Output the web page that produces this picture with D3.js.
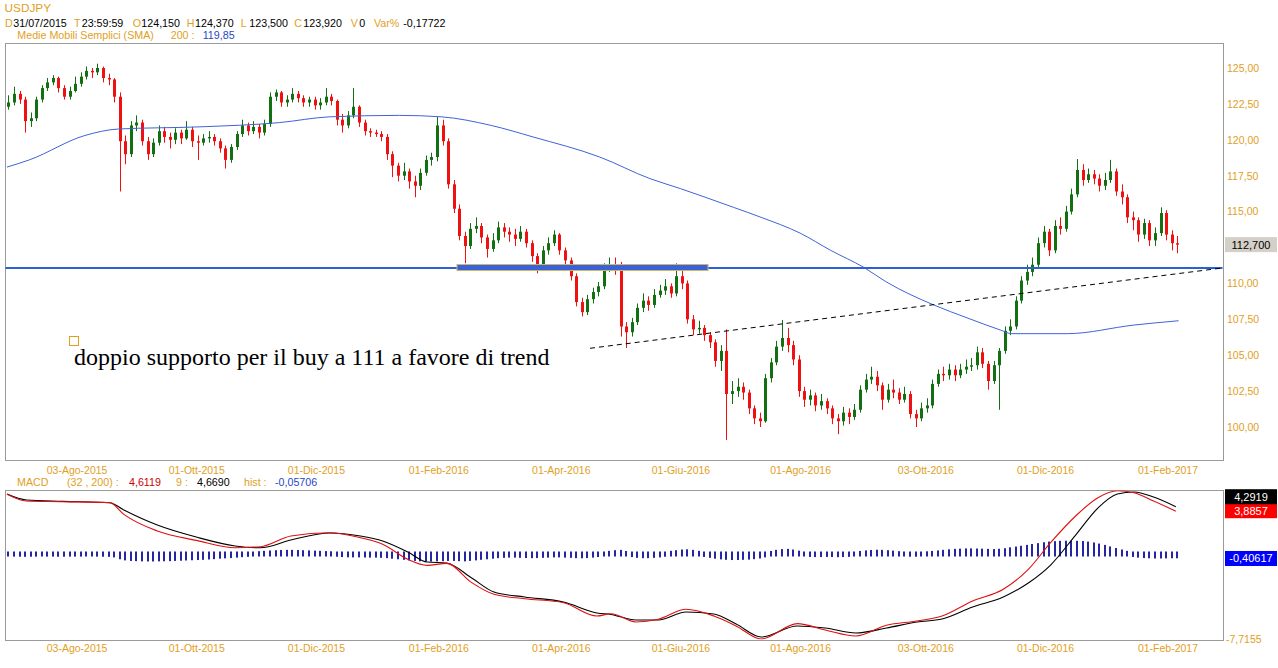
<!DOCTYPE html>
<html><head><meta charset="utf-8">
<script src="https://cdn.jsdelivr.net/npm/d3@7"></script>
<style>
html,body{margin:0;padding:0;background:#fff;}
svg{display:block;}
</style></head><body>
<svg id="chart" width="1278" height="668" font-family="'Liberation Sans',Arial,sans-serif"></svg>
<script>
// ---------------- DATA ----------------
// one candle = 2 trading days (candle k starts on trading day 2k, day 0 = 29/06/2015)
const candleOpen = [122.3,122.6,123.2,122.8,121.3,121.5,122.8,123.6,124.0,124.3,
123.6,123.0,123.4,123.9,124.4,124.8,124.7,125.0,124.3,124.2,
123.0,119.9,119.0,121.0,121.2,119.9,119.0,119.8,120.6,120.2,
120.0,120.5,120.1,120.7,119.9,119.8,120.1,120.2,119.9,119.4,
118.6,119.5,120.4,121.0,120.6,120.9,120.5,121.1,123.0,123.3,
122.6,122.8,123.2,122.9,122.6,122.8,122.4,122.6,123.0,122.7,
121.4,121.0,121.7,122.3,121.2,120.6,120.5,120.4,120.2,119.0,
118.2,117.5,117.8,117.1,116.8,117.7,118.6,118.8,121.0,119.9,
116.9,115.2,113.3,112.6,113.8,114.0,113.2,112.4,113.0,113.9,
113.6,113.4,113.1,113.6,112.8,111.9,111.2,112.3,112.8,113.4,
112.3,111.6,110.5,108.7,108.0,108.9,109.4,109.8,111.0,111.3,
111.0,107.0,106.6,107.3,108.3,108.8,108.5,109.2,109.5,109.8,
109.3,110.5,110.0,107.5,106.8,106.9,106.4,105.9,104.6,105.3,
102.3,102.5,102.8,102.4,101.3,100.6,100.4,103.4,104.5,105.6,
106.2,105.7,104.7,102.5,101.9,102.2,101.5,101.8,101.3,100.6,
100.4,101.0,100.7,101.2,102.6,103.3,103.5,102.9,101.9,102.6,
102.4,101.9,102.3,100.9,100.6,101.3,101.5,103.0,103.7,103.6,
104.0,103.6,104.0,104.2,104.3,105.2,104.4,103.2,104.3,105.3,
106.7,107.0,108.8,110.2,110.8,111.3,112.8,113.6,112.3,114.0,
113.8,115.0,116.2,117.9,117.2,117.6,117.3,116.8,117.2,117.8,
116.4,116.0,114.6,114.4,113.4,114.2,113.0,113.5,114.9,113.4,
112.8];
const candleHigh = [123.1,123.7,123.4,123.0,121.9,123.0,123.8,124.3,124.5,124.4,
123.8,123.7,124.4,124.7,125.1,125.0,125.3,125.1,124.6,124.3,
123.3,120.3,121.3,121.7,121.4,120.2,120.1,121.0,120.9,120.5,
120.8,120.7,121.3,120.9,120.3,120.4,120.6,120.4,120.1,119.6,
119.7,120.6,121.4,121.2,121.3,121.1,121.4,123.3,123.5,123.4,
123.1,123.6,123.4,123.1,123.0,123.0,122.9,123.6,123.2,122.8,
121.8,122.0,123.6,122.4,121.4,120.8,120.7,120.6,120.4,119.2,
118.4,118.4,118.0,117.5,118.0,118.9,119.1,121.6,121.4,120.1,
117.2,115.5,113.6,114.2,114.6,114.2,113.4,113.5,114.3,114.2,
113.9,113.8,114.0,113.8,113.0,112.1,112.6,113.2,113.7,113.5,
112.5,111.8,110.7,109.0,109.2,109.7,110.1,111.4,111.8,111.8,
111.5,107.3,107.6,108.6,109.3,109.1,109.6,109.9,110.3,110.0,
111.4,111.0,110.2,107.8,107.4,107.1,106.6,106.1,105.7,106.8,
103.2,103.4,103.1,102.6,101.5,101.0,103.7,104.8,106.0,107.45,
106.9,106.0,105.0,102.8,102.6,102.4,102.3,102.0,101.5,100.9,
101.4,101.3,101.6,102.9,103.7,104.2,103.9,103.1,103.0,103.3,
102.7,102.8,102.5,101.2,101.7,102.0,103.3,104.0,104.2,104.4,
104.3,104.4,104.7,104.8,105.6,105.5,104.6,104.6,105.5,107.0,
107.5,109.1,110.5,111.3,111.8,113.2,114.0,113.8,114.4,114.6,
115.4,116.6,118.66,118.3,118.0,117.9,117.6,117.7,118.6,118.0,
116.9,116.2,115.0,114.6,114.5,114.4,113.9,115.3,115.1,113.7,
113.3];
const candleLow = [122.1,122.4,122.5,120.5,120.9,121.3,122.6,123.4,123.8,123.3,
122.8,122.8,123.3,123.7,124.2,124.3,124.5,124.0,123.8,122.6,
116.4,118.3,118.8,120.6,119.6,118.6,118.8,119.6,119.8,119.4,
119.7,119.7,120.0,119.5,118.6,119.6,119.8,119.6,119.1,118.0,
118.4,119.3,120.2,120.3,120.4,120.1,120.3,120.9,122.7,122.3,
122.3,122.6,122.6,122.3,122.3,122.1,122.1,122.4,122.4,121.0,
120.5,120.8,121.5,120.9,120.3,120.2,120.2,119.9,118.6,117.4,
117.1,117.2,116.6,116.0,116.5,117.5,118.2,118.5,119.6,116.6,
114.9,113.0,111.4,112.4,113.5,112.8,111.8,112.2,112.8,113.2,
112.9,112.6,112.9,112.5,111.5,110.7,111.0,112.0,112.6,112.0,
111.3,110.2,108.4,107.7,107.8,108.6,109.1,109.6,110.8,110.6,
106.3,105.5,106.3,107.1,108.0,108.1,108.3,109.0,109.2,109.0,
109.1,109.6,107.2,106.4,106.5,106.0,105.5,104.2,103.9,99.1,
101.6,102.1,101.9,100.9,100.2,100.0,100.3,103.1,104.3,105.3,
105.2,104.3,102.1,101.4,101.5,101.1,101.2,100.9,100.2,99.5,
100.1,100.2,100.5,101.0,102.4,103.0,102.5,101.2,101.7,102.0,
101.6,101.7,100.6,100.0,100.4,101.0,101.3,102.8,103.2,103.3,
103.2,103.4,103.7,103.9,104.0,104.1,102.6,103.0,101.2,105.1,
106.4,106.8,108.6,109.9,110.5,111.1,112.5,111.9,112.1,113.4,
113.6,114.8,116.0,116.8,117.0,116.9,116.4,116.5,117.0,116.1,
115.5,114.2,113.7,112.9,113.1,112.6,112.6,113.3,113.0,112.3,
112.1];
const candleClose = [122.6,123.2,122.8,121.3,121.5,122.8,123.6,124.0,124.3,123.6,
123.0,123.4,123.9,124.4,124.8,124.7,125.0,124.3,124.2,123.0,
119.9,119.0,121.0,121.2,119.9,119.0,119.8,120.6,120.2,120.0,
120.5,120.1,120.7,119.9,119.8,120.1,120.2,119.9,119.4,118.6,
119.5,120.4,121.0,120.6,120.9,120.5,121.1,123.0,123.3,122.6,
122.8,123.2,122.9,122.6,122.8,122.4,122.6,123.0,122.7,121.4,
121.0,121.7,122.3,121.2,120.6,120.5,120.4,120.2,119.0,118.2,
117.5,117.8,117.1,116.8,117.7,118.6,118.8,121.0,119.9,116.9,
115.2,113.3,112.6,113.8,114.0,113.2,112.4,113.0,113.9,113.6,
113.4,113.1,113.6,112.8,111.9,111.2,112.3,112.8,113.4,112.3,
111.6,110.5,108.7,108.0,108.9,109.4,109.8,111.0,111.3,111.0,
107.0,106.6,107.3,108.3,108.8,108.5,109.2,109.5,109.8,109.3,
110.5,110.0,107.5,106.8,106.9,106.4,105.9,104.6,105.3,102.3,
102.5,102.8,102.4,101.3,100.6,100.4,103.4,104.5,105.6,106.2,
105.7,104.7,102.5,101.9,102.2,101.5,101.8,101.3,100.6,100.4,
101.0,100.7,101.2,102.6,103.3,103.5,102.9,101.9,102.6,102.4,
101.9,102.3,100.9,100.6,101.3,101.5,103.0,103.7,103.6,104.0,
103.6,104.0,104.2,104.3,105.2,104.4,103.2,104.3,105.3,106.7,
107.0,108.8,110.2,110.8,111.3,112.8,113.6,112.3,114.0,113.8,
115.0,116.2,117.9,117.2,117.6,117.3,116.8,117.2,117.8,116.4,
116.0,114.6,114.4,113.4,114.2,113.0,113.5,114.9,113.4,112.8,
112.7];
const daysPerCandle = 2;
const lastDay = 421;

// SMA 200 (read at trading-day positions)
const smaDays   = [0,8,28,40,69,98,116,141,156,174,189,213,231,242,261,271,285,296,308,316,333,345,357,361,381,405,421];
const smaValues = [118.1,118.6,120.3,120.75,120.9,121.2,121.6,121.7,121.6,121.0,120.2,118.8,117.3,116.6,115.3,114.6,113.5,112.3,111.1,110.1,108.5,107.6,106.75,106.5,106.5,107.1,107.4];

// horizontal support, highlighted zone, dashed trend line
const supportLevel = 111.07;
const supportZoneDays = [161.7, 251.9];
const trendDays = [209.5, 436.6];
const trendValues = [105.48, 111.07];
const lastPrice = 112.7;

// MACD (32,200) and signal (9)
const macdDays = [0,7,20,37,42,54,68,82,91,102,116,127,135,144,151,158,167,175,186,200,212,217,226,234,244,254,262,271,284,294,305,316,327,336,347,358,367,375,384,392,399,405,412,420];
const macdValues = [5.42,4.81,4.75,4.66,3.60,2.09,1.24,0.57,0.66,1.63,1.93,1.48,0.88,-0.48,-1.03,-0.85,-2.60,-3.66,-4.06,-4.42,-5.63,-5.42,-6.17,-5.93,-5.02,-5.63,-6.53,-7.7155,-6.32,-6.90,-7.44,-6.47,-6.08,-5.63,-4.26,-3.20,-1.39,1.03,3.45,5.11,5.74,5.56,4.81,3.8857];
const signalValues = [5.44,4.90,4.78,4.66,3.99,2.63,1.54,0.73,0.57,1.27,1.91,1.63,1.18,0.18,-0.73,-0.82,-2.18,-3.45,-3.90,-4.36,-5.35,-5.49,-5.99,-5.99,-5.26,-5.44,-6.35,-7.53,-6.53,-6.72,-7.17,-6.72,-6.17,-5.90,-4.81,-3.90,-2.63,-1.00,1.72,4.17,5.44,5.63,5.17,4.2919];
// histogram, one value per candle
const histValues = [0.00,-0.01,-0.02,-0.03,-0.02,-0.01,0.00,-0.01,-0.01,-0.02,-0.02,-0.01,-0.01,-0.01,0.00,0.00,-0.01,-0.02,-0.03,-0.08,-0.25,
-0.35,-0.40,-0.42,-0.44,-0.45,-0.45,-0.44,-0.43,-0.42,-0.40,-0.38,-0.36,-0.34,-0.32,-0.30,-0.27,-0.24,-0.20,-0.17,-0.14,
-0.10,-0.06,-0.03,0.00,0.03,
0.06,0.09,0.12,0.14,0.15,0.15,0.14,0.12,0.10,0.08,0.06,0.04,0.02,
-0.02,-0.05,-0.07,-0.08,-0.08,-0.09,-0.10,-0.10,-0.12,-0.15,-0.20,-0.25,
-0.30,-0.35,-0.40,-0.44,-0.46,-0.46,-0.44,-0.42,-0.40,-0.40,-0.42,-0.44,-0.40,-0.35,-0.30,-0.25,-0.20,
-0.15,-0.12,-0.10,-0.10,-0.12,-0.14,-0.15,-0.14,-0.12,-0.10,-0.08,-0.08,-0.10,-0.12,-0.15,-0.16,-0.14,-0.10,-0.05,0.00,0.06,0.12,
0.15,
0.05,-0.05,-0.12,-0.15,-0.15,-0.12,-0.08,-0.02,
0.06,0.12,0.18,0.20,0.15,0.06,-0.04,
-0.12,-0.20,-0.26,-0.30,-0.32,-0.32,-0.30,-0.28,-0.24,-0.18,-0.08,0.05,
0.15,0.22,0.24,0.18,
0.08,0.00,-0.04,-0.05,-0.05,-0.04,-0.05,-0.06,-0.05,-0.03,0.00,
0.05,0.10,0.14,0.16,0.15,0.12,0.08,0.03,
0.00,-0.02,-0.02,0.00,0.02,0.05,
0.10,0.15,0.20,0.24,0.26,0.28,0.28,0.27,0.26,0.24,0.22,0.25,
0.30,0.38,0.45,0.52,0.60,0.68,0.76,0.84,0.90,0.94,0.97,0.98,0.98,0.97,0.95,0.90,
0.82,0.72,0.60,0.46,0.32,0.18,0.06,
-0.04,-0.10,-0.14,-0.16,-0.18,-0.18,-0.17,-0.16,-0.16];
const macdMin = -7.7155;
const macdLast = 3.8857, signalLast = 4.2919, histLast = -0.40617;

// axis ticks (112,50 is hidden under the last-price box in the original)
const tickDays = [25,68,111,155,199,242,285,330,373,417];
const tickLabels = ["03-Ago-2015","01-Ott-2015","01-Dic-2015","01-Feb-2016","01-Apr-2016","01-Giu-2016","01-Ago-2016","03-Ott-2016","01-Dic-2016","01-Feb-2017"];
const priceTicks = [100,102.5,105,107.5,110,115,117.5,120,122.5,125];

// header texts
const headerLine = [["D","o",5],["31/07/2015","k",13.3],["T","o",74],["23:59:59","k",81.7],["O","o",132.7],["124,150","k",141.3],["H","o",186.7],["124,370","k",195],["L","o",240.7],["123,500","k",249.3],["C","o",294.3],["123,920","k",303.3],["V","o",350.7],["0","k",359.3],["Var%","o",374],["-0,17722","k",403.3]];
const smaLine = [["Medie Mobili Semplici (SMA)","o",17.3],["200 :","o",170.7],["119,85","b",202.7]];
const macdLine = [["MACD","o",17],["(32 , 200) :","o",67],["4,6119","r",129],["9 :","o",176],["4,6690","k",197],["hist :","o",244],["-0,05706","b",275]];
const annotation = "doppio supporto per il buy a 111 a favore di trend";

// ---------------- DRAWING ----------------
const ORANGE = "#dfa01e", GREEN = "#127012", RED = "#f01010", BLUE = "#3a62d6";
const colorOf = {o: ORANGE, k: "#000", b: "#2848c8", r: "#cc0000"};
const svg = d3.select("#chart");
const P = {x0: 5, x1: 1223, y0: 44, y1: 461};
const M = {y0: 490, y1: 640};

const x = d3.scaleLinear().domain([0, lastDay]).range([7, 1178.6]);
const yP = d3.scaleLinear().domain([100, 125]).range([427, 68]);
const yM = d3.scaleLinear().domain([macdMin, 5.72]).range([639, 491]);
const fmt = (d, n) => d.toFixed(n).replace(".", ",");

const defs = svg.append("defs");
defs.append("clipPath").attr("id", "pclip").append("rect")
  .attr("x", P.x0 + 0.5).attr("y", P.y0 + 0.5).attr("width", P.x1 - P.x0 - 1).attr("height", P.y1 - P.y0 - 1);
defs.append("clipPath").attr("id", "mclip").append("rect")
  .attr("x", P.x0 + 0.5).attr("y", M.y0 + 0.5).attr("width", P.x1 - P.x0 - 1).attr("height", M.y1 - M.y0 - 1);

// frames
svg.append("rect").attr("x", P.x0 + 0.5).attr("y", P.y0 - 0.5).attr("width", P.x1 - P.x0).attr("height", P.y1 - P.y0)
  .attr("fill", "#fff").attr("stroke", "#9a9a9a");
svg.append("rect").attr("x", P.x0 + 0.5).attr("y", M.y0 + 0.5).attr("width", P.x1 - P.x0).attr("height", M.y1 - M.y0)
  .attr("fill", "#fff").attr("stroke", "#9a9a9a");

// header
function headerRow(items, yBase) {
  const t = svg.append("text").attr("y", yBase).attr("font-size", "10.7px");
  items.forEach(([s, c, xx]) => t.append("tspan").attr("x", xx).attr("fill", colorOf[c]).text(s));
}
svg.append("text").attr("x", 4.5).attr("y", 12).attr("font-size", "11.8px").attr("fill", ORANGE).text("USDJPY");
headerRow(headerLine, 27);
headerRow(smaLine, 38.5);
headerRow(macdLine, 486);

// price panel
const pg = svg.append("g").attr("clip-path", "url(#pclip)");
const candles = candleClose.map((c, k) => ({
  day: k * daysPerCandle + (daysPerCandle - 1) / 2,
  o: candleOpen[k], h: candleHigh[k], l: candleLow[k], c: c
}));
const cg = pg.append("g");
candles.forEach(d => {
  const cx = Math.round(x(d.day)) + 0.5;
  const col = d.c >= d.o ? GREEN : RED;
  cg.append("line").attr("x1", cx).attr("x2", cx).attr("y1", yP(d.h)).attr("y2", yP(d.l))
    .attr("stroke", col).attr("stroke-width", 1);
  const top = yP(Math.max(d.o, d.c)), bot = yP(Math.min(d.o, d.c));
  cg.append("rect").attr("x", cx - 1.5).attr("width", 3).attr("y", top).attr("height", Math.max(1, bot - top))
    .attr("fill", col);
});

// SMA
pg.append("path").datum(smaDays.map((d, i) => [d, smaValues[i]]))
  .attr("d", d3.line().x(d => x(d[0])).y(d => yP(d[1])).curve(d3.curveMonotoneX))
  .attr("fill", "none").attr("stroke", "#3d63d8").attr("stroke-width", 1);

// support line
pg.append("line").attr("x1", P.x0).attr("x2", P.x1).attr("y1", yP(supportLevel)).attr("y2", yP(supportLevel))
  .attr("stroke", "#2f5fd4").attr("stroke-width", 2);
// highlighted zone
pg.append("rect").attr("x", x(supportZoneDays[0])).attr("width", x(supportZoneDays[1]) - x(supportZoneDays[0]))
  .attr("y", yP(supportLevel) - 3.5).attr("height", 6)
  .attr("fill", BLUE).attr("stroke", "#c8b86c").attr("stroke-width", 1);
// dashed trend line
pg.append("line").attr("x1", x(trendDays[0])).attr("y1", yP(trendValues[0]))
  .attr("x2", x(trendDays[1])).attr("y2", yP(trendValues[1]))
  .attr("stroke", "#000").attr("stroke-width", 1).attr("stroke-dasharray", "5,4");

// annotation
svg.append("rect").attr("x", 69.5).attr("y", 336.5).attr("width", 9).attr("height", 9)
  .attr("fill", "none").attr("stroke", ORANGE);
svg.append("text").attr("x", 74).attr("y", 365)
  .style("font-family", "'Liberation Serif','Times New Roman',serif")
  .attr("font-size", "24px").attr("fill", "#000").text(annotation);

// axes
function styleAxis(g) {
  g.select(".domain").remove();
  g.attr("font-family", null).attr("font-size", null);
  g.selectAll("text").attr("fill", ORANGE).attr("font-size", "10.5px");
}
const xAxis = d3.axisBottom(x).tickValues(tickDays).tickSize(0).tickFormat((d, i) => tickLabels[i]);
svg.append("g").attr("transform", `translate(0,${P.y1})`).call(xAxis.tickPadding(6)).call(styleAxis);
svg.append("g").attr("transform", `translate(0,${M.y1})`).call(xAxis.tickPadding(5)).call(styleAxis);
svg.append("g").attr("transform", `translate(${P.x1},0)`)
  .call(d3.axisRight(yP).tickValues(priceTicks).tickSize(0).tickPadding(4).tickFormat(d => fmt(d, 2)))
  .call(styleAxis);
svg.append("g").attr("transform", `translate(${P.x1},0)`)
  .call(d3.axisRight(yM).tickValues([macdMin]).tickSize(0).tickPadding(3).tickFormat(d => fmt(d, 4)))
  .call(styleAxis);

// value boxes on the right
function valueBox(yc, fill, textCol, label) {
  svg.append("rect").attr("x", 1225).attr("y", yc - 7.5).attr("width", 52).attr("height", 15).attr("fill", fill);
  svg.append("text").attr("x", 1251).attr("y", yc + 4).attr("text-anchor", "middle")
    .attr("font-size", "11px").attr("fill", textCol).text(label);
}
valueBox(yP(lastPrice), "#d4d0c8", "#000", fmt(lastPrice, 3));

// MACD panel
const mg = svg.append("g").attr("clip-path", "url(#mclip)");
histValues.forEach((v, k) => {
  const cx = Math.round(x(k * daysPerCandle + (daysPerCandle - 1) / 2));
  const top = yM(Math.max(v, 0)) - 2.5, bot = yM(Math.min(v, 0)) + 2.5;
  mg.append("rect").attr("x", cx - 1).attr("width", 2).attr("y", top).attr("height", bot - top).attr("fill", "#2626a4");
});
const mline = d3.line().x(d => x(d[0])).y(d => yM(d[1])).curve(d3.curveMonotoneX);
mg.append("path").datum(macdDays.map((d, i) => [d, signalValues[i]])).attr("d", mline)
  .attr("fill", "none").attr("stroke", "#000").attr("stroke-width", 1.1);
mg.append("path").datum(macdDays.map((d, i) => [d, macdValues[i]])).attr("d", mline)
  .attr("fill", "none").attr("stroke", "#e01010").attr("stroke-width", 1.1);

const redC = yM(macdLast) - 0.5;
valueBox(redC, "#ff0000", "#fff", fmt(macdLast, 4));
valueBox(redC - 14, "#000", "#fff", fmt(signalLast, 4));
valueBox(yM(histLast), "#0000ff", "#fff", fmt(histLast, 5));
</script>
</body></html>
